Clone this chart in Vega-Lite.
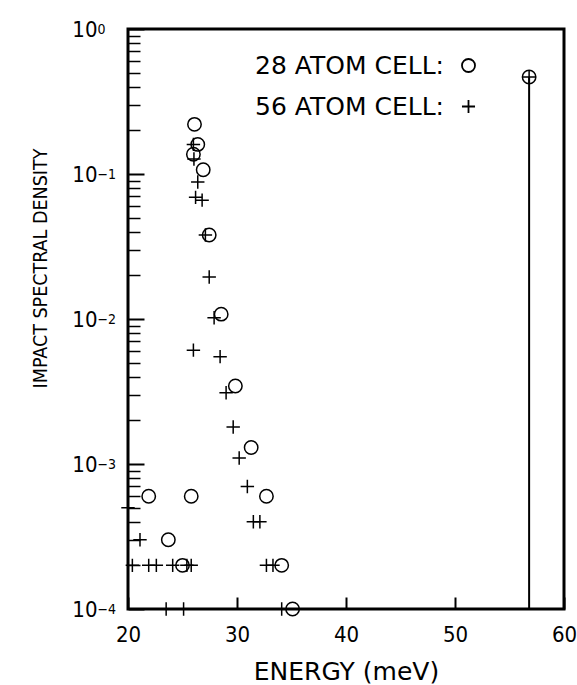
{
  "$schema": "https://vega.github.io/schema/vega-lite/v6.json",
  "width": 436,
  "height": 580,
  "autosize": {"type": "none"},
  "padding": {"left": 128, "top": 29, "right": 13, "bottom": 76},
  "background": "white",
  "config": {
    "view": {"stroke": "black", "strokeWidth": 3},
    "font": "DejaVu Sans",
    "axis": {"labelColor": "black", "titleColor": "black", "grid": false, "domain": false, "ticks": false}
  },
  "datasets": {
    "spike": [
      {"energy": 56.8, "density": 0.467}
    ],
    "points": [
      {"cell": "28 ATOM CELL:", "energy": 26.1, "density": 0.22},
      {"cell": "28 ATOM CELL:", "energy": 26.4, "density": 0.16},
      {"cell": "28 ATOM CELL:", "energy": 26.0, "density": 0.137},
      {"cell": "28 ATOM CELL:", "energy": 26.9, "density": 0.107},
      {"cell": "28 ATOM CELL:", "energy": 27.45, "density": 0.038},
      {"cell": "28 ATOM CELL:", "energy": 28.55, "density": 0.0108},
      {"cell": "28 ATOM CELL:", "energy": 29.85, "density": 0.00345},
      {"cell": "28 ATOM CELL:", "energy": 31.3, "density": 0.0013},
      {"cell": "28 ATOM CELL:", "energy": 21.9, "density": 0.0006},
      {"cell": "28 ATOM CELL:", "energy": 25.8, "density": 0.0006},
      {"cell": "28 ATOM CELL:", "energy": 32.7, "density": 0.0006},
      {"cell": "28 ATOM CELL:", "energy": 23.7, "density": 0.0003},
      {"cell": "28 ATOM CELL:", "energy": 25.0, "density": 0.0002},
      {"cell": "28 ATOM CELL:", "energy": 34.1, "density": 0.0002},
      {"cell": "28 ATOM CELL:", "energy": 35.1, "density": 0.0001},
      {"cell": "28 ATOM CELL:", "energy": 56.8, "density": 0.467},
      {"cell": "56 ATOM CELL:", "energy": 26.0, "density": 0.16},
      {"cell": "56 ATOM CELL:", "energy": 26.05, "density": 0.127},
      {"cell": "56 ATOM CELL:", "energy": 26.4, "density": 0.088},
      {"cell": "56 ATOM CELL:", "energy": 26.2, "density": 0.069},
      {"cell": "56 ATOM CELL:", "energy": 26.8, "density": 0.066},
      {"cell": "56 ATOM CELL:", "energy": 27.1, "density": 0.038},
      {"cell": "56 ATOM CELL:", "energy": 27.45, "density": 0.0195},
      {"cell": "56 ATOM CELL:", "energy": 27.9, "density": 0.0102},
      {"cell": "56 ATOM CELL:", "energy": 26.0, "density": 0.0061},
      {"cell": "56 ATOM CELL:", "energy": 28.45, "density": 0.0055},
      {"cell": "56 ATOM CELL:", "energy": 29.0, "density": 0.0031},
      {"cell": "56 ATOM CELL:", "energy": 29.65, "density": 0.0018},
      {"cell": "56 ATOM CELL:", "energy": 30.2, "density": 0.0011},
      {"cell": "56 ATOM CELL:", "energy": 30.95, "density": 0.0007},
      {"cell": "56 ATOM CELL:", "energy": 31.5, "density": 0.0004},
      {"cell": "56 ATOM CELL:", "energy": 32.1, "density": 0.0004},
      {"cell": "56 ATOM CELL:", "energy": 20.0, "density": 0.0005},
      {"cell": "56 ATOM CELL:", "energy": 21.1, "density": 0.0003},
      {"cell": "56 ATOM CELL:", "energy": 20.4, "density": 0.0002},
      {"cell": "56 ATOM CELL:", "energy": 21.9, "density": 0.0002},
      {"cell": "56 ATOM CELL:", "energy": 22.6, "density": 0.0002},
      {"cell": "56 ATOM CELL:", "energy": 24.1, "density": 0.0002},
      {"cell": "56 ATOM CELL:", "energy": 25.4, "density": 0.0002},
      {"cell": "56 ATOM CELL:", "energy": 25.8, "density": 0.0002},
      {"cell": "56 ATOM CELL:", "energy": 32.7, "density": 0.0002},
      {"cell": "56 ATOM CELL:", "energy": 33.3, "density": 0.0002},
      {"cell": "56 ATOM CELL:", "energy": 23.5, "density": 0.0001},
      {"cell": "56 ATOM CELL:", "energy": 25.1, "density": 0.0001},
      {"cell": "56 ATOM CELL:", "energy": 34.1, "density": 0.0001},
      {"cell": "56 ATOM CELL:", "energy": 56.8, "density": 0.467}
    ]
  },
  "layer": [
    {
      "data": {"name": "spike"},
      "mark": {"type": "rule", "color": "black", "strokeWidth": 2},
      "encoding": {
        "x": {
          "field": "energy", "type": "quantitative",
          "scale": {"domain": [20, 60], "nice": false, "zero": false},
          "axis": {
            "values": [20, 30, 40, 50, 60],
            "title": "ENERGY (meV)",
            "titleFont": "DejaVu Sans", "titleFontSize": 25, "titleFontWeight": "normal",
            "titlePadding": 14,
            "grid": true, "gridColor": "black", "gridOpacity": 1, "gridWidth": 2,
            "gridDash": [12, 568], "gridDashOffset": 12,
            "labelFont": "DejaVu Sans Condensed", "labelFontSize": 22,
            "labelPadding": 15, "labelFlush": false, "labelOverlap": false
          }
        },
        "y": {
          "field": "density", "type": "quantitative",
          "scale": {"type": "log", "domain": [0.0001, 1], "nice": false},
          "axis": {
            "orient": "left",
            "values": [0.0001, 0.001, 0.01, 0.1, 1],
            "title": "IMPACT SPECTRAL DENSITY",
            "titleFont": "DejaVu Sans Condensed", "titleFontSize": 19.5, "titleFontWeight": "normal",
            "titlePadding": 21, "titleY": 239,
            "grid": true, "gridColor": "black", "gridOpacity": 1, "gridWidth": 2,
            "gridDash": [16, 2000],
            "labelExpr": "'10'",
            "labelFont": "DejaVu Sans Condensed", "labelFontSize": 22,
            "labelPadding": 31, "labelOverlap": false, "labelFlush": false, "labelBound": false
          }
        },
        "y2": {"datum": 0.0001}
      }
    },
    {
      "data": {"name": "points"},
      "transform": [{"filter": "datum.cell === '28 ATOM CELL:'"}],
      "mark": {"type": "point", "filled": false, "color": "black", "strokeWidth": 1.5, "opacity": 1, "size": 180},
      "encoding": {
        "x": {"field": "energy", "type": "quantitative"},
        "y": {
          "field": "density", "type": "quantitative",
          "axis": {
            "orient": "left",
            "values": [0.0002, 0.0003, 0.0004, 0.0005, 0.0006, 0.0007, 0.0008, 0.0009,
                       0.002, 0.003, 0.004, 0.005, 0.006, 0.007, 0.008, 0.009,
                       0.02, 0.03, 0.04, 0.05, 0.06, 0.07, 0.08, 0.09,
                       0.2, 0.3, 0.4, 0.5, 0.6, 0.7, 0.8, 0.9],
            "title": null,
            "labels": false,
            "grid": true, "gridColor": "black", "gridOpacity": 1, "gridWidth": 1.5,
            "gridDash": [12, 2000]
          }
        },
        "shape": {
          "field": "cell", "type": "nominal",
          "scale": {"domain": ["28 ATOM CELL:", "56 ATOM CELL:"], "range": ["circle", "M-1,0H1M0,-1V1"]},
          "legend": {
            "orient": "none", "legendX": 328, "legendY": 24,
            "title": null,
            "labelFont": "DejaVu Sans", "labelFontSize": 25, "labelColor": "black",
            "labelAlign": "right", "labelOffset": -37, "labelLimit": 400,
            "symbolSize": 170, "symbolStrokeWidth": 1.8, "symbolStrokeColor": "black",
            "symbolFillColor": "transparent", "rowPadding": 15, "padding": 0
          }
        }
      }
    },
    {
      "data": {"name": "points"},
      "transform": [{"filter": "datum.cell === '56 ATOM CELL:'"}],
      "mark": {"type": "point", "filled": false, "color": "black", "strokeWidth": 1.5, "opacity": 1, "size": 180},
      "encoding": {
        "x": {"field": "energy", "type": "quantitative"},
        "y": {
          "field": "density", "type": "quantitative",
          "axis": {
            "orient": "left",
            "values": [0.0001, 0.001, 0.01, 0.1, 1],
            "title": null,
            "labelExpr": "datum.value >= 1 ? '0' : '−' + format(-log(datum.value) / LN10, '.0f')",
            "labelFont": "DejaVu Sans Condensed", "labelFontSize": 14,
            "labelAlign": "left", "labelDy": -11,
            "labelPadding": 31, "labelOverlap": false, "labelFlush": false, "labelBound": false
          }
        },
        "shape": {"field": "cell", "type": "nominal"}
      }
    }
  ],
  "resolve": {"axis": {"y": "independent"}}
}
